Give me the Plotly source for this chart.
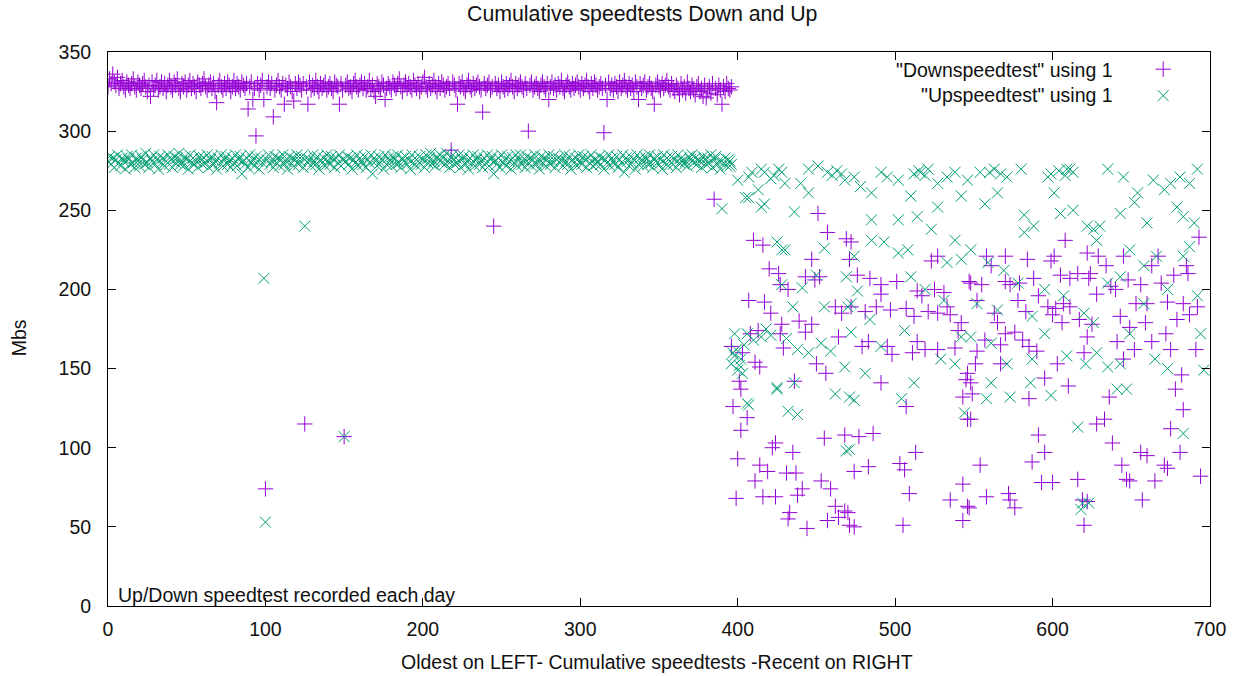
import plotly.graph_objects as go

# ---------------- data ----------------
# left part: one test per day, index 0..396
down_left = [
328,333,330,336,331,329,334,327,330,332,328,326,331,329,327,330,333,328,326,331,
329,327,330,332,328,325,329,322,331,327,329,332,326,328,331,327,330,325,329,332,
328,326,331,329,333,327,325,330,328,331,326,329,332,327,330,328,325,331,329,327,
330,333,328,326,329,331,327,330,325,318,329,332,328,326,330,327,331,329,325,328,
332,327,330,328,326,331,329,327,330,314,328,331,320,327,297,330,326,329,332,320,
74,328,331,327,330,309,326,329,332,328,326,330,317,329,327,331,328,325,319,330,
327,331,329,326,330,115,328,317,331,326,329,327,332,328,325,330,327,329,331,326,
328,330,327,325,331,329,328,317,330,326,107,329,331,327,328,325,330,332,328,326,
329,331,327,330,326,328,332,327,329,325,322,330,328,326,331,329,320,327,330,328,
326,331,329,327,330,333,328,325,329,331,327,330,328,326,332,329,327,330,325,328,
331,334,328,326,330,327,329,332,328,325,330,327,331,329,326,328,330,327,288,331,
329,326,317,330,328,331,327,325,329,332,328,326,330,327,329,331,328,326,312,330,
327,329,331,326,328,240,330,327,329,325,331,328,326,330,327,329,332,328,325,330,
327,329,331,328,326,330,327,300,329,331,326,328,330,327,325,329,331,328,326,330,
320,328,331,327,329,326,330,328,332,327,325,329,331,328,326,330,327,329,331,328,
326,330,327,329,332,328,325,330,327,331,329,326,328,330,327,299,329,320,331,327,
329,326,330,328,325,331,327,329,332,328,326,330,327,329,325,331,328,320,330,327,
329,331,326,328,330,327,325,317,329,331,328,326,330,327,329,332,328,326,330,327,
325,329,327,323,330,326,328,324,331,327,325,329,326,323,328,330,325,327,322,329,
321,326,328,324,330,257,327,323,329,326,317,328,325,330,327,326,328,
]
up_left = [
281,284,279,283,277,282,285,280,278,283,281,276,284,282,279,285,280,277,283,281,
278,284,282,279,286,280,277,283,281,285,279,282,276,284,280,283,278,281,285,279,
282,277,284,280,283,286,279,281,278,284,282,276,285,280,283,279,281,277,284,282,
279,283,280,285,277,282,284,279,281,276,283,280,285,278,282,284,279,281,277,283,
280,285,278,282,284,273,281,279,283,277,285,280,282,278,284,281,276,283,280,207,
53,282,285,279,281,277,284,280,283,278,282,285,279,281,276,284,280,283,278,282,
285,279,281,284,277,240,283,280,282,278,285,281,279,284,276,282,280,283,278,285,
281,279,284,282,277,283,280,285,278,282,107,281,284,279,283,276,282,280,285,278,
283,281,279,284,277,282,280,285,273,283,281,278,284,280,282,276,285,279,283,281,
278,284,282,279,285,280,277,283,281,284,279,282,276,285,280,283,278,281,284,279,
282,277,285,280,283,286,279,281,278,284,282,285,280,283,279,286,281,277,284,282,
279,283,280,285,277,282,284,279,281,276,283,280,285,278,282,284,279,281,277,283,
280,285,278,282,284,273,281,279,283,277,285,280,282,278,284,281,276,283,280,285,
278,282,285,279,281,277,284,280,283,278,282,285,279,281,276,284,280,283,278,282,
285,279,281,284,277,282,283,280,282,278,285,281,279,284,276,282,280,283,278,285,
281,279,284,282,277,283,280,285,278,282,279,281,284,279,283,276,282,280,285,278,
283,281,279,284,277,282,280,285,274,283,281,278,284,280,282,276,285,279,283,281,
278,284,282,279,285,280,277,283,281,284,279,282,276,285,280,283,278,281,284,279,
282,277,285,280,283,281,279,281,278,284,282,285,280,283,279,282,281,277,284,282,
279,283,280,285,277,282,284,279,281,276,251,280,283,278,282,281,279,
]

# right part: (test number, Mbs)
down_right = [
(451,248),(410,231),(416,228),(457,236),(469,232),(447,219),(420,213),(426,210),(443,208),(449,206),
(452,208),(427,203),(432,200),(407,193),(417,192),(421,185),(439,180),(447,178),(443,173),(428,178),
(413,174),(408,172),(427,172),(462,189),(466,185),(464,170),(429,163),(396,164),(403,160),(411,154),
(414,151),(450,153),(456,147),(401,142),(402,137),(436,142),(397,126),(406,119),(402,111),(455,106),
(468,108),(424,103),(422,100),(400,93),(435,97),(414,89),(419,85),(431,84),(437,84),(411,79),
(453,79),(459,74),(441,74),(438,70),(399,68),(416,69),(424,69),(433,59),(432,55),(444,49),
(462,63),(464,56),(457,54),(468,60),(471,51),
(472,230),(471,219),(476,209),(484,207),(491,203),(501,205),(491,197),(481,186),(488,189),(497,187),
(507,188),(512,183),(472,189),(483,167),(479,164),(495,164),(498,159),(514,167),(511,160),(519,162),
(527,162),(538,163),(514,199),(517,196),(525,200),(531,198),(521,186),(527,185),(533,189),(535,184),
(542,179),(540,174),(527,221),(523,218),(547,205),(546,147),(545,143),(543,132),(546,118),(491,141),
(507,126),(477,107),(486,109),(513,97),(474,85),(483,88),(503,90),(506,86),(509,71),(543,77),
(535,67),(546,63),(543,54),(474,50),(505,51),(470,59),
(608,231),(570,221),(584,219),(599,218),(601,221),(558,221),(561,215),(622,223),(588,207),(605,209),
(611,207),(616,210),(623,207),(548,204),(555,203),(570,205),(573,203),(579,204),(591,196),(597,189),
(602,188),(607,191),(611,189),(617,181),(606,179),(600,184),(552,193),(563,185),(565,179),(578,193),
(583,186),(576,173),(581,168),(585,164),(590,161),(557,168),(552,161),(567,165),(570,172),(567,153),
(548,141),(549,134),(551,153),(603,153),(620,160),(622,170),(595,144),(610,139),(585,131),(548,118),
(591,108),(595,97),(587,91),(554,89),(593,78),(600,78),(616,80),(558,69),(572,71),(573,67),
(576,62),(547,62),(619,67),(620,51),
(693,233),(629,221),(645,221),(667,221),(634,215),(663,215),(685,215),(624,210),(677,209),(686,210),
(648,206),(656,203),(669,204),(637,202),(628,197),(640,200),(673,192),(653,191),(660,191),(683,191),
(692,189),(687,184),(679,181),(643,183),(659,179),(649,176),(625,178),(672,172),(641,167),(663,167),
(675,162),(691,162),(652,162),(645,156),(682,146),(678,137),(636,132),(683,124),(628,115),(633,118),
(675,112),(638,103),(656,97),(660,95),(681,97),(644,89),(671,89),(673,87),(647,80),(649,79),
(665,79),(694,82),(657,67),(622,66),
]
up_right = [
(409,274),(415,276),(421,270),(428,274),(413,263),(407,258),(417,254),(436,249),(445,276),(451,278),
(457,274),(440,267),(445,261),(468,269),(395,278),(400,269),(425,230),(430,225),(455,226),(469,208),
(450,209),(428,203),(441,201),(435,189),(455,189),(470,189),(406,172),(415,170),(421,171),(431,169),
(438,162),(445,160),(453,166),(459,161),(468,151),(398,158),(396,153),(402,156),(400,149),(425,138),
(436,141),(462,134),(407,127),(438,121),(469,98),(471,132),(397,160),(399,162),(404,165),(401,152),
(403,147),(405,258),(415,252),(407,271),(417,274),(430,267),(428,225),(425,137),(406,128),(432,123),
(410,168),(418,175),(398,172),(423,272),(426,276),(460,272),(463,275),(466,273),
(474,271),(478,265),(485,261),(491,274),(495,271),(502,269),(510,259),(516,274),(521,276),(527,252),
(533,271),(538,274),(542,259),(546,269),(527,267),(485,244),(502,244),(485,231),(493,230),(502,223),
(508,225),(514,246),(523,238),(538,231),(533,217),(542,219),(474,221),(510,208),(519,200),(531,193),
(476,199),(472,191),(484,181),(506,174),(472,173),(491,164),(529,156),(538,153),(542,170),(481,147),
(512,141),(474,130),(504,131),(544,122),(471,99),(512,273),(515,275),(519,272),
(554,274),(571,271),(580,276),(565,261),(557,254),(597,271),(609,276),(613,274),(601,261),(582,247),
(588,240),(582,236),(605,248),(613,250),(622,240),(548,225),(559,217),(569,212),(578,204),(565,187),
(552,191),(587,183),(595,172),(595,200),(607,196),(620,185),(548,170),(561,166),(571,153),(587,156),
(609,158),(621,153),(561,141),(586,141),(573,132),(599,133),(558,131),(616,113),(619,65),(618,61),
(560,274),(563,276),(567,273),(599,273),(604,275),(608,272),(611,276),
(635,276),(645,271),(664,269),(675,267),(681,271),(692,276),(687,267),(671,263),(654,261),(652,255),
(643,248),(660,242),(679,252),(683,246),(630,240),(626,238),(690,242),(687,227),(649,225),(628,231),
(666,221),(683,221),(658,215),(635,204),(643,208),(673,200),(692,196),(658,191),(626,179),(649,172),
(694,172),(628,160),(635,151),(643,153),(665,156),(673,150),(696,149),(641,137),(647,137),(683,109),
(623,65),
]

x_ticks = [0, 100, 200, 300, 400, 500, 600, 700]
y_ticks = [0, 50, 100, 150, 200, 250, 300, 350]

series_names = ['"Downspeedtest" using 1', '"Upspeedtest" using 1']
title_text = "Cumulative speedtests Down and Up"
x_title = "Oldest on LEFT- Cumulative speedtests -Recent on RIGHT"
y_title = "Mbs"
note_text = "Up/Down speedtest recorded each day"

# ---------------- figure ----------------
W, H = 1238, 676
L, R, T, B = 108, 1213, 52, 606
FONT = "Liberation Sans, Arial, sans-serif"
FS = 19.5
PURPLE = "#9400D3"
GREEN = "#009E73"


def px(xp):
    return (xp - L) / (R - L)


def py(yp):
    return (B - yp) / (B - T)


dx = list(range(len(down_left))) + [p[0] for p in down_right]
dy = down_left + [p[1] for p in down_right]
ux = list(range(len(up_left))) + [p[0] for p in up_right]
uy = up_left + [p[1] for p in up_right]

fig = go.Figure()
fig.add_trace(go.Scatter(
    x=dx, y=dy, mode="markers", name=" ",
    marker=dict(symbol="cross-thin", size=11, color=PURPLE,
                line=dict(color=PURPLE, width=1)),
))
fig.add_trace(go.Scatter(
    x=ux, y=uy, mode="markers", name=" ",
    marker=dict(symbol="x-thin", size=11, color=GREEN,
                line=dict(color=GREEN, width=1)),
))

axis_common = dict(
    showline=True, linecolor="black", linewidth=1, mirror="ticks",
    ticks="inside", ticklen=8, tickcolor="black", tickwidth=1,
    showgrid=False, zeroline=False,
    tickfont=dict(family=FONT, size=FS, color="#111"),
)

fig.update_layout(
    width=W, height=H,
    margin=dict(l=L, r=W - R, t=T, b=H - B),
    paper_bgcolor="white", plot_bgcolor="white",
    xaxis=dict(range=[0, 700], tickvals=x_ticks, ticktext=[str(v) for v in x_ticks],
               ticklabelstandoff=6, **axis_common),
    yaxis=dict(range=[0, 350], tickvals=y_ticks, ticktext=[str(v) for v in y_ticks],
               ticklabelstandoff=12, **axis_common),
    showlegend=True,
    legend=dict(x=px(1146), xanchor="left", y=py(51), yanchor="top",
                bgcolor="rgba(0,0,0,0)", borderwidth=0,
                font=dict(family=FONT, size=18, color="#111"),
                itemsizing="trace", tracegroupgap=0),
    annotations=[
        dict(text=title_text, x=px(643), y=py(14), xref="paper", yref="paper",
             xanchor="center", yanchor="middle", showarrow=False,
             font=dict(family=FONT, size=21.3, color="#111")),
        dict(text=x_title, x=px(658), y=py(662), xref="paper", yref="paper",
             xanchor="center", yanchor="middle", showarrow=False,
             font=dict(family=FONT, size=FS, color="#111")),
        dict(text=y_title, x=px(19), y=py(338), xref="paper", yref="paper",
             xanchor="center", yanchor="middle", showarrow=False, textangle=-90,
             font=dict(family=FONT, size=FS, color="#111")),
        dict(text=note_text, x=px(116), y=py(595), xref="paper", yref="paper",
             xanchor="left", yanchor="middle", showarrow=False,
             font=dict(family=FONT, size=FS, color="#111")),
        dict(text=series_names[0], x=px(1118), y=py(70), xref="paper", yref="paper",
             xanchor="right", yanchor="middle", showarrow=False,
             font=dict(family=FONT, size=FS, color="#111")),
        dict(text=series_names[1], x=px(1118), y=py(95), xref="paper", yref="paper",
             xanchor="right", yanchor="middle", showarrow=False,
             font=dict(family=FONT, size=FS, color="#111")),
    ],
)

fig.write_html("out.html", config={"displayModeBar": False})

# remove the default page margin so the figure sits at the window's top-left corner
with open("out.html", "r", encoding="utf-8") as fh:
    page = fh.read()
page = page.replace("<head>", "<head><style>html,body{margin:0;padding:0;overflow:hidden;}</style>", 1)
with open("out.html", "w", encoding="utf-8") as fh:
    fh.write(page)
